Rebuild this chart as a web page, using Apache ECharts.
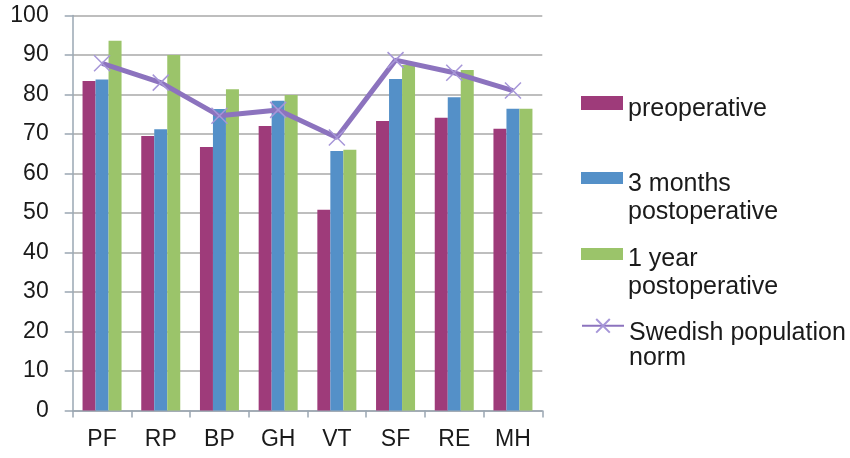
<!DOCTYPE html>
<html>
<head>
<meta charset="utf-8">
<script src="https://cdn.jsdelivr.net/npm/echarts@6/dist/echarts.min.js"></script>
<style>
  html, body { margin: 0; padding: 0; background: #ffffff; }
  #chart { width: 850px; height: 458px; }
</style>
</head>
<body>
<div id="chart"></div>
<script>
// SF-36 domain scores
const domains = ['PF', 'RP', 'BP', 'GH', 'VT', 'SF', 'RE', 'MH'];
const preoperative = [83.4, 69.5, 66.7, 72.0, 50.8, 73.3, 74.1, 71.3];
const threeMonths = [83.8, 71.2, 76.3, 78.4, 65.7, 83.9, 79.3, 76.4];
const oneYear = [93.6, 90.0, 81.3, 79.9, 66.0, 87.5, 86.2, 76.4];
const swedishNorm = [87.9, 83.0, 74.6, 76.1, 69.1, 88.7, 85.5, 81.0];

const seriesNames = ['preoperative', '3 months\npostoperative', '1 year\npostoperative', 'Swedish population\nnorm'];
const colors = ['#9E3B7A', '#5490C8', '#9BC46A', '#8C73BE'];

const FONT = '"Liberation Sans", Arial, sans-serif';
const crossPath = 'path://M0,0L10,10M10,0L0,10';

// One legend block per series; the first text line sits slightly below the swatch
function legendFor(i, top, firstLineHeight, secondLineHeight, iconH, icon) {
  const lines = seriesNames[i].split('\n');
  return {
    show: true,
    orient: 'vertical',
    left: 581,
    top: top,
    padding: 0,
    itemWidth: 42,
    itemHeight: iconH,
    itemGap: 0,
    selectedMode: false,
    data: [{ name: seriesNames[i], icon: icon }],
    formatter: function () {
      return lines.length > 1 ? '{a|' + lines[0] + '}\n{b|' + lines[1] + '}' : '{a|' + lines[0] + '}';
    },
    textStyle: {
      fontFamily: FONT,
      fontSize: 25,
      color: '#1a1a1a',
      rich: {
        a: { fontFamily: FONT, fontSize: 25, color: '#1a1a1a', lineHeight: firstLineHeight, verticalAlign: 'bottom' },
        b: { fontFamily: FONT, fontSize: 25, color: '#1a1a1a', lineHeight: secondLineHeight, verticalAlign: 'bottom' }
      }
    }
  };
}

const barBase = {
  type: 'bar',
  barWidth: 13,
  barGap: '0%',
  barCategoryGap: '0%'
};

const option = {
  backgroundColor: '#ffffff',
  animation: false,
  color: colors,
  grid: { left: 72.7, right: 307.7, top: 15.5, bottom: 47.5 },
  legend: [
    legendFor(0, 96, 38, 28, 14, 'rect'),
    legendFor(1, 172, 66, 28, 12, 'rect'),
    legendFor(2, 247, 64, 28, 12, 'rect'),
    legendFor(3, 318, 64, 25, 17, null)
  ],
  xAxis: {
    type: 'category',
    data: domains,
    axisLine: { show: true, lineStyle: { color: '#9AA7B3', width: 1.5 } },
    axisTick: { show: true, length: 7, lineStyle: { color: '#9AA7B3', width: 1.5 } },
    axisLabel: { fontFamily: FONT, fontSize: 23, color: '#1a1a1a', margin: 18 }
  },
  yAxis: {
    type: 'value',
    min: 0,
    max: 100,
    interval: 10,
    axisLine: { show: true, lineStyle: { color: '#9AA7B3', width: 1.5 } },
    axisTick: { show: true, length: 8, lineStyle: { color: '#9AA7B3', width: 1.5 } },
    axisLabel: { fontFamily: FONT, fontSize: 23, color: '#1a1a1a', margin: 24 },
    splitLine: { show: true, lineStyle: { color: '#A8A8A8', width: 1.5 } }
  },
  series: [
    { ...barBase, name: seriesNames[0], data: preoperative, itemStyle: { color: colors[0] } },
    { ...barBase, name: seriesNames[1], data: threeMonths, itemStyle: { color: colors[1] } },
    { ...barBase, name: seriesNames[2], data: oneYear, itemStyle: { color: colors[2] } },
    {
      type: 'line',
      name: seriesNames[3],
      data: swedishNorm,
      symbol: crossPath,
      symbolSize: 16,
      showAllSymbol: true,
      lineStyle: { color: '#8C73BE', width: 5 },
      itemStyle: { color: '#8C73BE', borderColor: '#A696D8', borderWidth: 1.5 },
      z: 5
    }
  ]
};

const chart = echarts.init(document.getElementById('chart'), null, { renderer: 'canvas' });
chart.setOption(option);
</script>
</body>
</html>
